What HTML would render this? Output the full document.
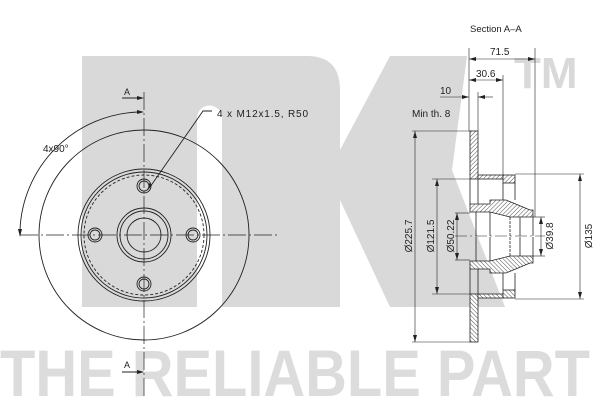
<!DOCTYPE html>
<html><head><meta charset="utf-8"><style>
html,body{margin:0;padding:0;background:#fff;}
svg{display:block;}
text{font-family:"Liberation Sans",sans-serif;fill:#222;}
</style></head><body>
<svg width="600" height="400" viewBox="0 0 600 400" xmlns="http://www.w3.org/2000/svg">
<defs>
<pattern id="h" width="3" height="3" patternUnits="userSpaceOnUse" patternTransform="rotate(45)">
<rect width="3" height="3" fill="#fff"/><line x1="0" y1="0" x2="0" y2="3" stroke="#222" stroke-width="0.8"/>
</pattern>
</defs>
<!-- watermark -->
<g fill="#d9d9d9">
<path d="M82,56 H307 Q340,56 340,90 V307 H222 V118 A12.5,12.5 0 0 0 197,118 V307 H82 Z"/>
<polygon points="340,150 390,56 467,56 452,170 505,307 390,307 340,200"/>
<text x="514" y="88" font-size="44" font-weight="bold" style="fill:#d9d9d9">TM</text>
<text x="0" y="396" font-size="66" font-weight="bold" textLength="590" lengthAdjust="spacingAndGlyphs" style="fill:#dcdcdc">THE RELIABLE PART</text>
</g>
<!-- left view -->
<g fill="none" stroke="#222" stroke-width="0.9">
<circle cx="144" cy="235" r="105"/>
<circle cx="144" cy="235" r="66"/>
<circle cx="144" cy="235" r="63"/>
<circle cx="144" cy="235" r="60" stroke-dasharray="3,2"/>
<circle cx="144" cy="235" r="27"/>
<circle cx="144" cy="235" r="24"/>
<circle cx="144" cy="235" r="17"/>
<circle cx="95" cy="235" r="7"/><circle cx="95" cy="235" r="5"/>
<circle cx="193" cy="235" r="7"/><circle cx="193" cy="235" r="5"/>
<circle cx="144" cy="186" r="7"/><circle cx="144" cy="186" r="5"/>
<circle cx="144" cy="284" r="7"/><circle cx="144" cy="284" r="5"/>
<line x1="20" y1="235" x2="280" y2="235" stroke-dasharray="18,3,2,3" stroke-width="0.7"/>
<line x1="144" y1="92" x2="144" y2="398" stroke-dasharray="18,3,2,3" stroke-width="0.7"/>
<path d="M138,112 A123,123 0 0 0 20,230" />
<line x1="122" y1="98" x2="142" y2="98"/>
<line x1="122" y1="372" x2="142" y2="372"/>
<polyline points="150,187 203,111 212,111"/>
</g>
<g fill="#222">
<polygon points="144,98 137,96 137,100"/>
<polygon points="144,372 137,370 137,374"/>
<polygon points="144,112 137,110 137,114"/>
<polygon points="20,237 18,229 22,229"/>
<polygon points="148,190 149,183 152,185"/>
</g>
<text x="124" y="95" font-size="9">A</text>
<text x="124" y="368" font-size="9">A</text>
<text x="43" y="152" font-size="10">4x90°</text>
<text x="217" y="117" font-size="10" textLength="91">4 x M12x1.5, R50</text>
<!-- right view -->
<text x="470" y="32" font-size="9.5">Section A–A</text>
<text x="412" y="117" font-size="10">Min th. 8</text>
<text x="490" y="55" font-size="10">71.5</text>
<text x="476" y="77" font-size="10">30.6</text>
<text x="440" y="94" font-size="10">10</text>
<g id="half" stroke="#222" stroke-width="0.8">
<rect x="470" y="131" width="8" height="48" fill="url(#h)"/>
<rect x="478" y="175" width="25" height="4" fill="url(#h)"/>
<rect x="503" y="175" width="12" height="8" fill="url(#h)"/>
<polygon points="470,204 490,204 490,200 506,200 530,210 533,210 533,217 510,217 490,212 470,212" fill="url(#h)"/>
<g fill="none">
<line x1="503" y1="183" x2="503" y2="200"/>
<line x1="515" y1="183" x2="515" y2="200"/>
<line x1="470" y1="179" x2="470" y2="204"/>
<line x1="478" y1="179" x2="478" y2="204"/>
<line x1="515" y1="174" x2="584" y2="174" stroke-width="0.6"/>
<line x1="412" y1="131" x2="470" y2="131" stroke-width="0.6"/>
<line x1="432" y1="179" x2="470" y2="179" stroke-width="0.6"/>
<line x1="455" y1="213" x2="470" y2="213" stroke-width="0.6"/>
<line x1="533" y1="217" x2="545" y2="217" stroke-width="0.6"/>
<line x1="476" y1="212" x2="476" y2="236"/>
<line x1="490" y1="212" x2="490" y2="236"/>
<line x1="510" y1="217" x2="510" y2="236" stroke-dasharray="3,1"/>
<line x1="520" y1="217" x2="520" y2="236"/>
<line x1="533" y1="217" x2="533" y2="236"/>
</g>
</g>
<use href="#half" transform="translate(0,473) scale(1,-1)"/>
<g stroke="#222" stroke-width="0.6" fill="none">
<line x1="455" y1="236" x2="545" y2="236" stroke-dasharray="12,3,2,3"/>
<line x1="469" y1="48" x2="469" y2="131"/>
<line x1="535" y1="48" x2="535" y2="217"/>
<line x1="503" y1="75" x2="503" y2="175"/>
<line x1="478" y1="92" x2="478" y2="131"/>
<line x1="469" y1="59" x2="535" y2="59"/>
<line x1="469" y1="80" x2="503" y2="80"/>
<line x1="440" y1="97" x2="469" y2="97"/>
<line x1="478" y1="97" x2="493" y2="97"/>
<line x1="415" y1="131" x2="415" y2="342"/>
<line x1="437" y1="179" x2="437" y2="294"/>
<line x1="457" y1="213" x2="457" y2="260"/>
<line x1="541" y1="217" x2="541" y2="256"/>
<line x1="580" y1="174" x2="580" y2="299"/>
</g>
<g fill="#222">
<polygon points="469,59 476,57 476,61"/><polygon points="535,59 528,57 528,61"/>
<polygon points="469,80 476,78 476,82"/><polygon points="503,80 496,78 496,82"/>
<polygon points="469,97 462,95 462,99"/><polygon points="478,97 485,95 485,99"/>
<polygon points="415,131 413,138 417,138"/><polygon points="415,342 413,335 417,335"/>
<polygon points="437,179 435,186 439,186"/><polygon points="437,294 435,287 439,287"/>
<polygon points="457,213 455,220 459,220"/><polygon points="457,260 455,253 459,253"/>
<polygon points="541,217 539,224 543,224"/><polygon points="541,256 539,249 543,249"/>
<polygon points="580,174 578,181 582,181"/><polygon points="580,299 578,292 582,292"/>
</g>
<g font-size="10">
<text transform="translate(412,236) rotate(-90)" text-anchor="middle">Ø225.7</text>
<text transform="translate(434,236) rotate(-90)" text-anchor="middle">Ø121.5</text>
<text transform="translate(454,236) rotate(-90)" text-anchor="middle">Ø50.22</text>
<text transform="translate(553,236) rotate(-90)" text-anchor="middle">Ø39.8</text>
<text transform="translate(592,236) rotate(-90)" text-anchor="middle">Ø135</text>
</g>
</svg>
</body></html>
